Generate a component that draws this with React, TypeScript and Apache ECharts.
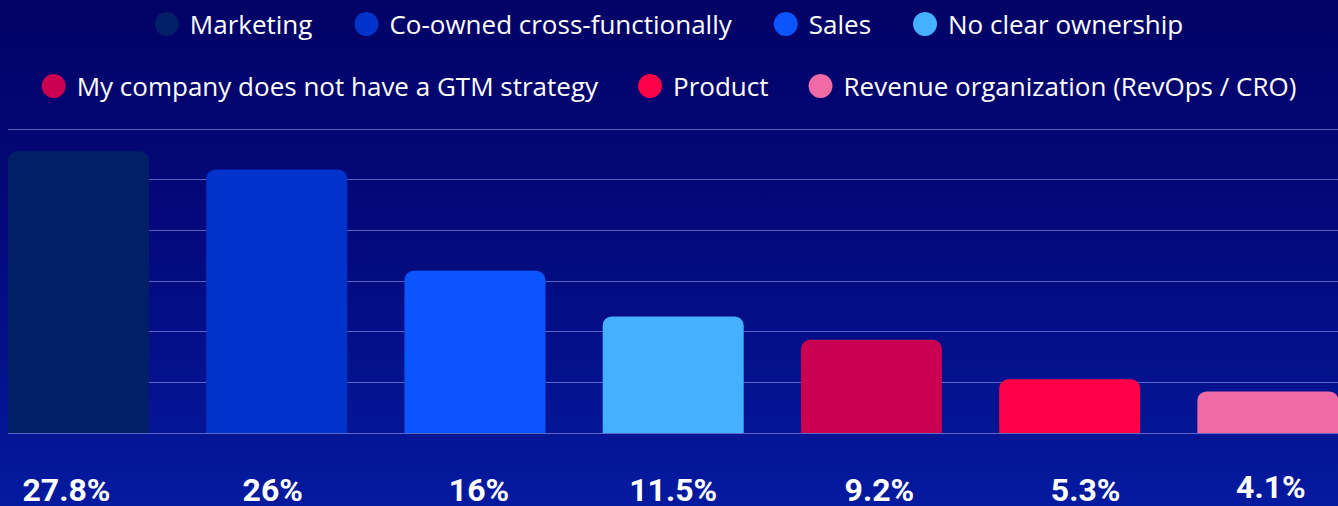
import React, { useEffect, useRef } from "react";
import * as echarts from "echarts";

const categories = [
  "Marketing",
  "Co-owned cross-functionally",
  "Sales",
  "No clear ownership",
  "My company does not have a GTM strategy",
  "Product",
  "Revenue organization (RevOps / CRO)",
];
const values = [27.8, 26, 16, 11.5, 9.2, 5.3, 4.1];
const valueLabels = ["27.8%", "26%", "16%", "11.5%", "9.2%", "5.3%", "4.1%"];
const colors = ["#011f66", "#0033c9", "#0b55ff", "#45b0ff", "#cc0050", "#ff0048", "#f06aa6"];
const yTicks = { min: 0, max: 30, interval: 5 };
// small label nudges seen in the reference (layout only, px)
const labelShiftX = [-12, -4, 4, 0, 8, 16, 3];
const labelShiftY = [0, 0, 0, 0, 0, 0, -3];

export default function App() {
  const ref = useRef<HTMLDivElement>(null);
  useEffect(() => {
    if (!ref.current) return;
    const chart = echarts.init(ref.current, undefined, { renderer: "svg" });
    const series: any[] = categories.map((name, i) => ({
      name,
      type: "bar",
      stack: "all",
      xAxisIndex: 0,
      yAxisIndex: 0,
      barWidth: 141,
      data: values.map((v, j) => (j === i ? v : "-")),
      itemStyle: { color: colors[i], borderRadius: [9, 9, 0, 0] },
    }));
    const legendBase = {
      left: "center",
      icon: "circle",
      padding: 0,
      itemWidth: 36,
      itemHeight: 24,
      textStyle: { color: "#ffffff", fontSize: 26, fontFamily: "Open Sans" },
    };
    const xData = valueLabels.map((v, i) => {
      const dx = labelShiftX[i];
      const top = 3 + labelShiftY[i];
      return {
        value: v,
        textStyle: {
          padding: [top, dx < 0 ? -2 * dx : 0, 0, dx > 0 ? 2 * dx : 0],
        },
      };
    });
    chart.setOption({
      animation: false,
      backgroundColor: {
        type: "linear",
        x: 0,
        y: 0,
        x2: 0,
        y2: 1,
        colorStops: [
          { offset: 0, color: "#020266" },
          { offset: 0.5, color: "#030a7e" },
          { offset: 1, color: "#041a9f" },
        ],
      },
      legend: [
        { ...legendBase, top: 11, itemGap: 42, data: categories.slice(0, 4) },
        { ...legendBase, top: 73, itemGap: 40, data: categories.slice(4) },
      ],
      grid: [
        { left: 8.4, right: 0, top: 129, bottom: 73 },
        { left: 37, right: 29, top: 129, bottom: 73 },
      ],
      xAxis: [
        {
          type: "category",
          gridIndex: 0,
          data: xData,
          axisLine: { show: false },
          axisTick: { show: false },
          axisLabel: {
            color: "#ffffff",
            fontFamily: "Roboto",
            fontWeight: "bold",
            fontSize: 32,
            lineHeight: 24,
            margin: 42,
          },
        },
        { type: "value", gridIndex: 1, show: false, min: 0, max: 1 },
      ],
      yAxis: [
        { type: "value", gridIndex: 0, ...yTicks, show: false, splitLine: { show: false } },
        {
          type: "value",
          gridIndex: 1,
          ...yTicks,
          axisLabel: { show: false },
          axisLine: { show: false },
          axisTick: { show: false },
          splitLine: { show: true, lineStyle: { color: "rgba(170,170,240,0.55)", width: 1 } },
        },
      ],
      series,
    });
    return () => chart.dispose();
  }, []);
  return (
    <div style={{ position: "fixed", left: 0, top: 0, width: 1338, height: 506, overflow: "hidden" }}>
      <div ref={ref} style={{ position: "absolute", left: -29, top: 0, width: 1396, height: 506 }} />
    </div>
  );
}
